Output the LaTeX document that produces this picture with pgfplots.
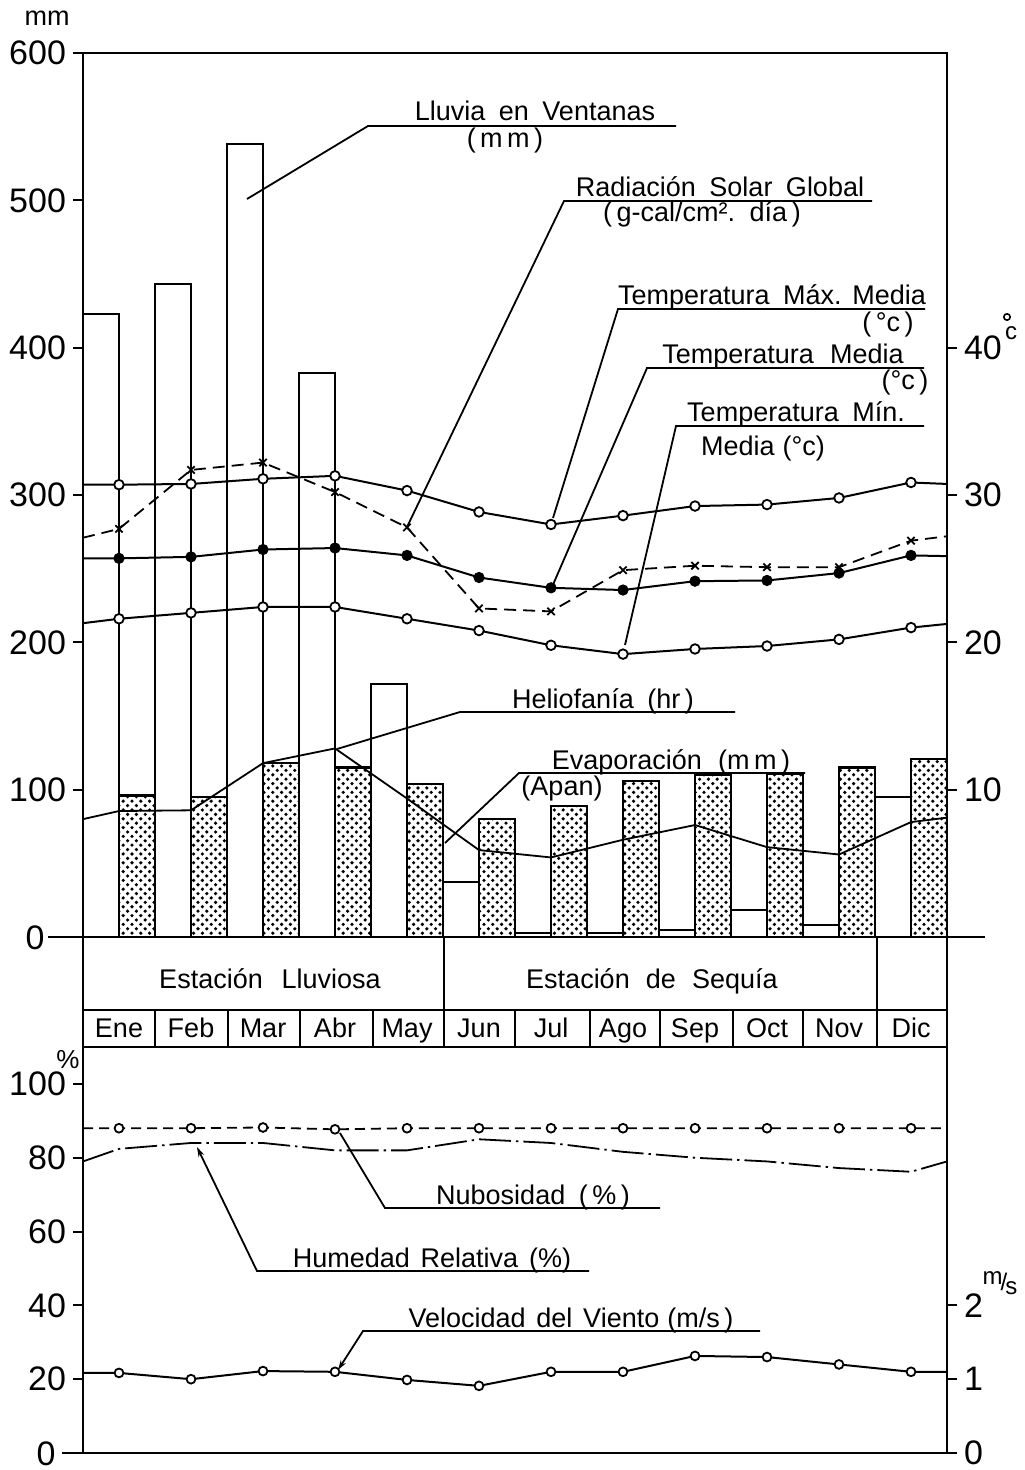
\documentclass[border=0pt]{standalone}
\usepackage{pgfplots}
\usepackage{pgfplotstable}
\pgfplotsset{compat=1.18}
\usepackage{fontspec}
\setmainfont{Liberation Sans}
\usetikzlibrary{patterns,arrows.meta}

% stipple used for the evaporation bars
\pgfdeclarepatternformonly{stipple}{\pgfqpoint{-1.2pt}{-1.2pt}}{\pgfqpoint{3.2pt}{3.2pt}}{\pgfqpoint{4.4pt}{4.4pt}}{%
  \pgfpathcircle{\pgfqpoint{0pt}{0pt}}{0.9pt}%
  \pgfpathcircle{\pgfqpoint{2.2pt}{2.2pt}}{0.9pt}%
  \pgfusepath{fill}}

\newcommand{\tk}{\fontsize{17}{17}\selectfont}
\newcommand{\lb}{\fontsize{13.5}{14}\selectfont}

% monthly values, x = month centre (0.5 = Ene ... 11.5 = Dic); 0 and 12 are the ends drawn at the frame
\pgfplotstableread{
x    tmax  tmed  tmin  rad  helio
0    30.7  25.7  21.3  271  8.0
0.5  30.7  25.7  21.6  277  8.55
1.5  30.75 25.8  22.0  317  8.6
2.5  31.1  26.3  22.4  322  11.8
3.5  31.3  26.4  22.4  302  12.8
4.5  30.3  25.9  21.6  278  9.4
5.5  28.85 24.4  20.8  223  5.9
6.5  28.0  23.7  19.8  221  5.4
7.5  28.6  23.55 19.2  249  6.6
8.5  29.25 24.15 19.55 252  7.6
9.5  29.35 24.2  19.75 251  6.1
10.5 29.8  24.7  20.2  251  5.6
11.5 30.85 25.9  21.0  269  7.8
12   30.75 25.85 21.25 272  8.1
}\topdata

\pgfplotstableread{
x    nub   hum   wind
0    88    79    1.085
0.5  88    82.4  1.085
1.5  88    84    1.0
2.5  88.2  84    1.11
3.5  87.7  82    1.1
4.5  88    82    0.99
5.5  88    85    0.91
6.5  88    84    1.1
7.5  88    81.6  1.1
8.5  88    80    1.315
9.5  88    79    1.3
10.5 88    77.2  1.2
11.5 88    76.2  1.1
12   88    79    1.1
}\botdata

\pgfplotsset{
  meteo/.style={scale only axis, clip=false, width=432pt,
    xmin=0, xmax=12, xtick=\empty,
    axis line style={line width=1.4pt},
    every tick/.style={line width=1pt, black},
    tick align=outside, major tick length=5pt,
    ticklabel style={font=\tk},
    /pgf/number format/assume math mode=true},
  inner/.style={only marks, restrict x to domain=0.2:11.8},
  openmark/.style={mark=*, mark size=#1, mark options={fill=white, solid, line width=0.9pt}},
}

\begin{document}
\begin{tikzpicture}
\path[use as bounding box] (0,0) rectangle (512pt,-735pt);

% ---------- upper panel, left scale: mm
\begin{axis}[meteo, at={(41.5pt,-468.5pt)}, anchor=south west, height=442pt,
  ymin=0, ymax=600, ytick={100,200,...,600}, ytick pos=left]
  % lluvia en Ventanas
  \addplot[ybar, bar width=0.5, bar shift=0pt, draw=black, line width=1pt, fill=white]
    coordinates {(0.25,423) (1.25,443) (2.25,538) (3.25,383) (4.25,172) (5.25,37)
                 (6.25,3) (7.25,3) (8.25,5) (9.25,18) (10.25,8) (11.25,95)};
  % evaporacion (Apan)
  \addplot[ybar, bar width=0.5, bar shift=0pt, draw=black, line width=1.2pt, pattern=stipple]
    coordinates {(0.75,96) (1.75,95) (2.75,118) (3.75,115) (4.75,104) (5.75,80)
                 (6.75,89) (7.75,106) (8.75,110) (9.75,111) (10.75,115) (11.75,121)};
  % radiacion solar global
  \addplot[line width=0.9pt, dash pattern=on 6pt off 3.5pt] table[x=x, y=rad]{\topdata};
  \addplot[inner, mark=x, mark size=2.6pt, mark options={line width=0.9pt}] table[x=x, y=rad]{\topdata};
\end{axis}

% ---------- upper panel, right scale: deg C and hr
\begin{axis}[meteo, at={(41.5pt,-468.5pt)}, anchor=south west, height=442pt,
  ymin=0, ymax=60, ytick={10,20,30,40}, hide x axis, axis y line*=right]
  % temperatura max media
  \addplot[line width=1pt] table[x=x, y=tmax]{\topdata};
  \addplot[inner, openmark=2.4pt] table[x=x, y=tmax]{\topdata};
  % temperatura media
  \addplot[line width=1pt] table[x=x, y=tmed]{\topdata};
  \addplot[inner, mark=*, mark size=2.6pt] table[x=x, y=tmed]{\topdata};
  % temperatura min media
  \addplot[line width=1pt] table[x=x, y=tmin]{\topdata};
  \addplot[inner, openmark=2.4pt] table[x=x, y=tmin]{\topdata};
  % heliofania (hr)
  \addplot[line width=0.9pt] table[x=x, y=helio]{\topdata};
\end{axis}

% ---------- lower panel, left scale: %
\begin{axis}[meteo, at={(41.5pt,-726.5pt)}, anchor=south west, height=203pt,
  ymin=0, ymax=110, ytick={20,40,...,100}, ytick pos=left]
  % nubosidad
  \addplot[line width=0.9pt, dash pattern=on 5pt off 3pt] table[x=x, y=nub]{\botdata};
  \addplot[inner, openmark=2.2pt] table[x=x, y=nub]{\botdata};
  % humedad relativa
  \addplot[line width=0.9pt, dash pattern=on 16pt off 2.5pt on 1.2pt off 2.5pt] table[x=x, y=hum]{\botdata};
\end{axis}

% ---------- lower panel, right scale: m/s
\begin{axis}[meteo, at={(41.5pt,-726.5pt)}, anchor=south west, height=203pt,
  ymin=0, ymax=5.5, ytick={0,1,2}, hide x axis, axis y line*=right]
  % velocidad del viento
  \addplot[line width=1pt] table[x=x, y=wind]{\botdata};
  \addplot[inner, openmark=2.2pt] table[x=x, y=wind]{\botdata};
\end{axis}

% ---------- frame pieces, table and labels (pixel grid of the reference)
\begin{scope}[x=0.5pt, y=-0.5pt, line width=0.9pt, every node/.style={font=\lb, inner sep=0pt}]
  \draw[line width=1.4pt] (48,937) -- (985,937);
  \draw[line width=1pt] (62,1453) -- (83,1453);
  \node[font=\tk] at (35,938) {0};
  \node[font=\tk] at (46,1454) {0};
  \node at (47,18) {mm};
  % degree sign of the right scale, drawn as a small ring over the c
  \draw[line width=0.8pt] (1007,317) circle[radius=1.6pt];
  \node[font=\fontsize{12}{12}\selectfont, anchor=base] at (1011,340) {c};
  \node[font=\fontsize{13}{13}\selectfont] at (68,1060) {\%};
  \node[font=\fontsize{12}{12}\selectfont] at (1000,1283) {\raisebox{3pt}{m}\kern-1pt/\kern-1pt\raisebox{-2pt}{s}};

  % season and month rows
  \draw[line width=1.4pt] (83,937) -- (83,1047) (947,937) -- (947,1047);
  \draw[line width=1.2pt] (83,1010) -- (947,1010) (444,937) -- (444,1047) (877,937) -- (877,1047);
  \foreach \x in {155,228,300,373,515,590,660,733,803}
    \draw[line width=1.1pt] (\x,1010) -- (\x,1047);
  \node[anchor=base] at (270,988) {Estación\hspace{0.7em}Lluviosa};
  \node[anchor=base] at (652,988) {Estación\hspace{0.6em}de\hspace{0.6em}Sequía};
  \foreach \m [count=\i from 0] in {Ene,Feb,Mar,Abr,May,Jun,Jul,Ago,Sep,Oct,Nov,Dic}
    \node[anchor=base] at ({119+72*\i},1037) {\m};

  % leaders and underlined captions
  \draw (247,199) -- (368,126) -- (676,126);
  \node[anchor=base] at (535,121) {Lluvia\hspace{0.5em}en\hspace{0.5em}Ventanas};
  \node[anchor=base] at (505,148) {(\,m\,m\,)};

  \draw (407,527) -- (564,201) -- (872,201);
  \node[anchor=base] at (720,197) {Radiación\hspace{0.5em}Solar\hspace{0.5em}Global};
  \node[anchor=base] at (702,222) {(\,g-cal/cm². \,día\,)};

  \draw (553,518) -- (618,309) -- (925,309);
  \node[anchor=base] at (772,305) {Temperatura\hspace{0.5em}Máx.\hspace{0.4em}Media};
  \node[anchor=base] at (888,332) {(\,°c\,)};

  \draw (552,587) -- (647,368) -- (924,368);
  \node[anchor=base] at (783,364) {Temperatura\hspace{0.6em}Media};
  \node[anchor=base] at (905,390) {(°c\,)};

  \draw (625,645) -- (676,426) -- (924,426);
  \node[anchor=base] at (796,422) {Temperatura\hspace{0.5em}Mín.};
  \node[anchor=base] at (763,455) {Media\hspace{0.3em}(°c)};

  \draw (337,749) -- (460,712) -- (735,712);
  \node[anchor=base] at (603,708) {Heliofanía\hspace{0.5em}(hr\,)};

  \draw (445,843) -- (519,773) -- (805,773);
  \node[anchor=base] at (671,769) {Evaporación\hspace{0.6em}(m\,m\,)};
  \node[anchor=base] at (562,795) {(Apan)};

  \draw (340,1133) -- (385,1208) -- (660,1208);
  \node[anchor=base] at (533,1204) {Nubosidad\hspace{0.5em}(\,\%\,)};

  \draw[{Stealth[length=5pt,width=3pt]}-] (197,1147) -- (257,1271) -- (589,1271);
  \node[anchor=base] at (432,1267) {Humedad\hspace{0.4em}Relativa\hspace{0.4em}(\%)};

  \draw[{Stealth[length=5pt,width=3pt]}-] (338,1370) -- (363,1331) -- (760,1331);
  \node[anchor=base] at (571,1327) {Velocidad\hspace{0.4em}del\hspace{0.4em}Viento\hspace{0.3em}(m/s\,)};
\end{scope}
\end{tikzpicture}
\end{document}
